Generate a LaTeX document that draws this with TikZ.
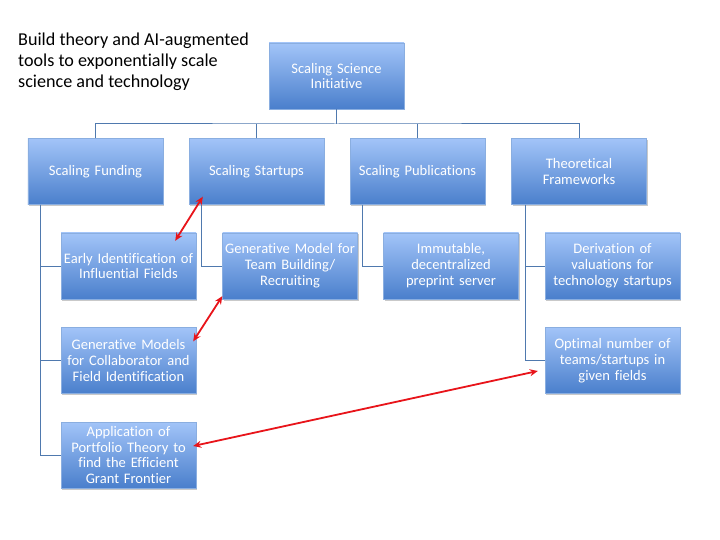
\documentclass[tikz,border=0pt]{standalone}
\usepackage{fontspec}
\setmainfont{Carlito}[Ligatures=NoCommon]
\usetikzlibrary{shadows,arrows.meta,calc}
\definecolor{boxtop}{HTML}{A2C4F8}
\definecolor{boxbot}{HTML}{4A7FCC}
\definecolor{boxline}{HTML}{8AAEE0}
\definecolor{conn}{HTML}{4F79AE}
\definecolor{arr}{HTML}{E8141A}
\tikzset{
  box/.style={rectangle, draw=boxline, line width=0.4bp, top color=boxtop, bottom color=boxbot,
    minimum width=133bp, minimum height=66bp, inner sep=1bp, text width=133bp, align=center,
    text=white, font=\fontsize{14.6}{16}\selectfont,
    drop shadow={shadow xshift=1.2bp, shadow yshift=-1.5bp, opacity=0.35, fill=black!60}},
  link/.style={draw=conn, line width=1bp},
  redarr/.style={draw=arr, line width=1.8bp, {Stealth[length=8bp,width=7bp]}-{Stealth[length=8bp,width=7bp]}}
}
\begin{document}
\begin{tikzpicture}[x=1bp,y=-1bp]
\useasboundingbox (0,0) rectangle (720,540);
\fill[white] (0,0) rectangle (720,540);

\node[anchor=north west, align=left, font=\fontsize{18.2}{21}\selectfont, text=black, inner sep=0] (title) at (18,33)
  {Build theory and AI-augmented\\tools to exponentially scale\\science and technology};

\node[box] (top) at (336.5,76) {Scaling Science\\Initiative};

\node[box] (fund) at (95.5,171.5) {Scaling Funding};
\node[box] (start) at (256.5,171.5) {Scaling Startups};
\node[box] (pub) at (417.5,171.5) {Scaling Publications};
\node[box] (theo) at (579,171.5) {Theoretical\\Frameworks};

\node[box] (early) at (128.5,266) {Early Identification of\\Influential Fields};
\node[box] (team) at (290,266) {Generative Model for\\Team Building/\\Recruiting};
\node[box] (collab) at (128.5,360.5) {Generative Models\\for Collaborator and\\Field Identification};
\node[box] (port) at (128.5,455) {Application of\\Portfolio Theory to\\find the Efficient\\Grant Frontier};
\node[box] (immu) at (451,266) {Immutable,\\decentralized\\preprint server};
\node[box] (deriv) at (612.5,266) {Derivation of\\valuations for\\technology startups};
\node[box] (opt) at (612.5,360.5) {Optimal number of\\teams/startups in\\given fields};

% tree connectors
\coordinate (bus) at (336.5,124);
\draw[link] (top.south) -- (bus);
\draw[link] (fund.north) |- (bus) -| (theo.north);
\draw[link] (start.north) -- (start.north |- bus);
\draw[link] (pub.north) -- (pub.north |- bus);

\draw[link] ([xshift=13bp]fund.south west) |- (early.west);
\draw[link] ([xshift=13bp]fund.south west) |- (collab.west);
\draw[link] ([xshift=13bp]fund.south west) |- (port.west);
\draw[link] ([xshift=13bp]start.south west) |- (team.west);
\draw[link] ([xshift=13bp]pub.south west) |- (immu.west);
\draw[link] ([xshift=14bp]theo.south west) |- (deriv.west);
\draw[link] ([xshift=14bp]theo.south west) |- (opt.west);

% red arrows
\coordinate (a1) at ($(early.north east)+(-21,8)$);
\coordinate (a2) at ($(start.south west)+(14,-8)$);
\draw[redarr] (a1) -- (a2);
\coordinate (b1) at ($(team.south west)+(0,-3)$);
\coordinate (b2) at ($(collab.north east)+(-3,14)$);
\draw[redarr] (b1) -- (b2);
\coordinate (c1) at ($(port.east)+(-3,-9)$);
\coordinate (c2) at ($(opt.west)+(-7,10.5)$);
\draw[redarr] (c1) -- (c2);
\end{tikzpicture}
\end{document}
